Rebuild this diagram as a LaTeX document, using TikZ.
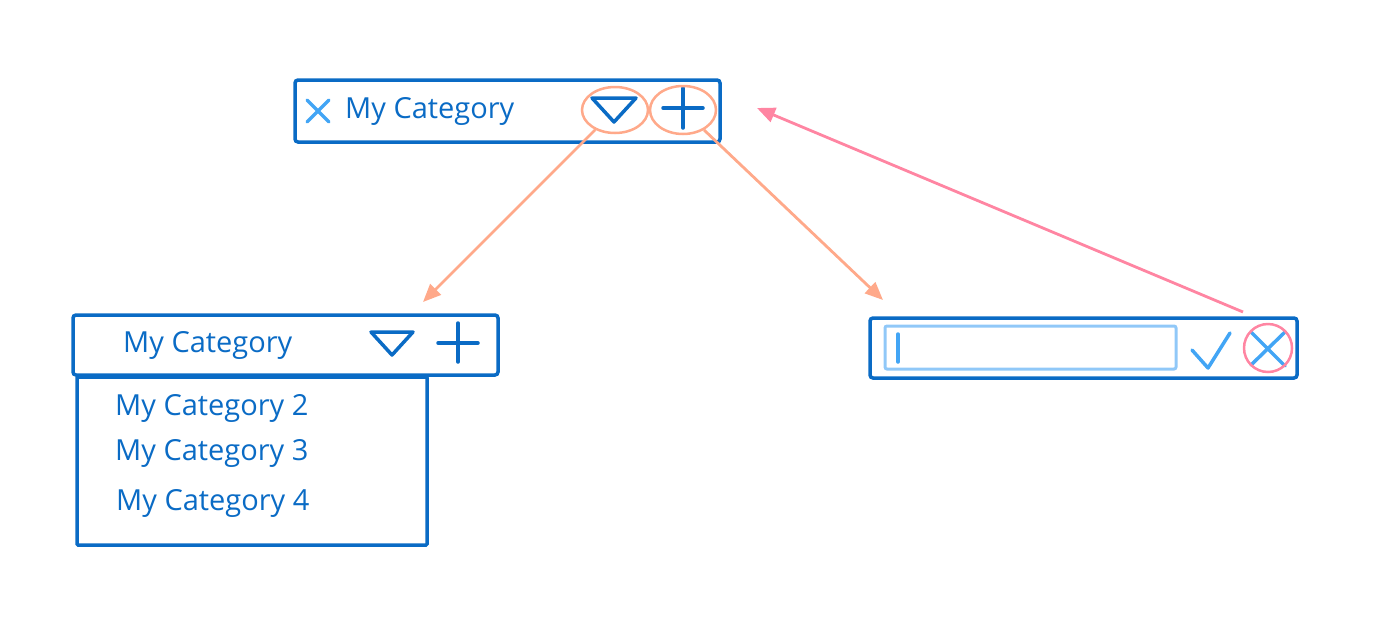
\documentclass[tikz,border=0pt]{standalone}
\usepackage{fontspec}
\setmainfont{Open Sans}
\usepackage{tikz}
\usetikzlibrary{arrows.meta}
\usetikzlibrary{shapes.geometric}
\definecolor{uiblue}{HTML}{0A6BC5}
\definecolor{iconblue}{HTML}{42A5F5}
\definecolor{fieldblue}{HTML}{90C8F8}
\definecolor{ringorange}{HTML}{FFA98A}
\definecolor{ringpink}{HTML}{FF85A2}
\begin{document}
\begin{tikzpicture}[x=1pt,y=1pt,yscale=-1,xscale=1,
  bar/.style={draw=uiblue, line width=3.5pt, rounded corners=3pt, inner sep=0pt},
  field/.style={draw=fieldblue, line width=3pt, rounded corners=2pt, inner sep=0pt},
  ring/.style={ellipse, draw=ringorange, line width=2.5pt, inner sep=0pt},
  cat/.style={text=uiblue, font=\fontsize{29}{31}\selectfont, inner sep=0pt},
  icon/.style={line width=3.5pt, line cap=round, line join=round},
  flow/.style={draw=ringorange, line width=2.8pt, -{Triangle[length=18pt,width=15pt]}},
  backflow/.style={draw=ringpink, line width=2.8pt, -{Triangle[length=18pt,width=15pt]}}]
\useasboundingbox (0,0) rectangle (1375,630);
% Top bar
\node (topbar) [bar, minimum width=425pt, minimum height=62pt] at (507.5,111) {};
\draw [icon, draw=iconblue] (307,100) -- (329,122) (307,122) -- (329,100) ;
\node (toptext) [cat, anchor=base west] at (345,118) {My Category};
\draw [icon, draw=uiblue] (592,98) -- (636,98) -- (614,122) -- cycle ;
\draw [icon, draw=uiblue] (663,108) -- (703,108) (683,88) -- (683,128) ;
\node (dropring) [ring, minimum width=66pt, minimum height=46pt] at (615,110) {};
\node (addring) [ring, minimum width=66pt, minimum height=48pt] at (683,110) {};
% Bottom left bar with list
\node (listbar) [bar, minimum width=425pt, minimum height=60pt] at (285.5,345) {};
\node (listtext) [cat, anchor=base west] at (123,352) {My Category};
\draw [icon, draw=uiblue] (371,332) -- (413,332) -- (392,355) -- cycle ;
\draw [icon, draw=uiblue] (438,343) -- (478,343) (458,323) -- (458,362) ;
\node (listbox) [bar, rounded corners=1pt, minimum width=350pt, minimum height=168pt] at (252,461) {};
\node (item2) [cat, anchor=base west] at (115,415) {My Category 2};
\node (item3) [cat, anchor=base west] at (115,460) {My Category 3};
\node (item4) [cat, anchor=base west] at (116,510) {My Category 4};
% Right bar with input field
\node (editbar) [bar, minimum width=427pt, minimum height=60pt] at (1083.5,348) {};
\node (editfield) [field, minimum width=291pt, minimum height=43pt] at (1030.5,347.5) {};
\draw [icon, draw=iconblue] (898,334) -- (898,362) ;
\draw [icon, draw=iconblue] (1192,350) -- (1208,368) -- (1230,333) ;
\draw [icon, draw=iconblue] (1251,332) -- (1285,366) (1251,365) -- (1285,332) ;
\node (cancelring) [ring, circle, draw=ringpink, minimum size=48pt] at (1268,348) {};
% Arrows
\coordinate (listend) at (423,302);
\coordinate (editend) at (883,300);
\coordinate (backstart) at (1243,312);
\coordinate (backend) at (757,108);
\draw [flow] (dropring) -- (listend) ;
\draw [flow] (addring) -- (editend) ;
\draw [backflow] (backstart) -- (backend) ;
\end{tikzpicture}
\end{document}
